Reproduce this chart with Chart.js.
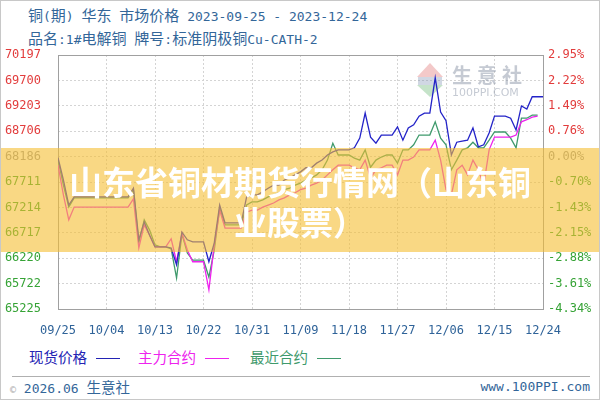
<!DOCTYPE html>
<html lang="zh">
<head>
    <meta charset="UTF-8">
    <meta name="viewport" content="width=device-width, initial-scale=1.0">
    <title>铜(期) 华东 市场价格</title>
    <script src="https://cdn.jsdelivr.net/npm/chart.js"></script>
    <style>
        body {
            margin: 0;
            background: #fff;
        }
        .frame {
            position: relative;
            width: 600px;
            height: 400px;
            overflow: hidden;
            background: #fff;
            font-family: "DejaVu Sans Mono", "Noto Sans CJK SC", monospace;
            color: #336699;
        }
        .cn {
            font-family: "Noto Sans CJK SC", sans-serif;
            font-size: 14.5px;
        }
        .title {
            position: absolute;
            left: 28px;
            font-size: 13px;
            line-height: 20px;
            white-space: nowrap;
        }
        .title .cn {
            font-size: 15px;
        }
        .chart-box {
            position: absolute;
            left: 0;
            top: 0;
            width: 600px;
            height: 345px;
        }
        .legend-item {
            position: absolute;
            top: 347px;
            line-height: 20px;
            white-space: nowrap;
        }
        .legend-item .dash {
            display: inline-block;
            width: 24px;
            height: 0;
            border-top: 1.5px solid;
            vertical-align: middle;
            margin-left: 9px;
        }
        .rule {
            position: absolute;
            left: 12px;
            right: 10px;
            top: 376px;
            border-top: 1px solid #b0b0b0;
        }
        .footer {
            position: absolute;
            top: 377px;
            line-height: 20px;
            font-size: 13px;
            white-space: nowrap;
        }
        .banner {
            position: absolute;
            left: 0;
            top: 148px;
            width: 600px;
            height: 104px;
            box-sizing: border-box;
            padding-top: 13px;
            background: rgba(245, 190, 50, 0.6);
            color: #fff;
            font-family: "Noto Sans CJK SC", sans-serif;
            font-weight: 700;
            font-size: 33px;
            line-height: 40px;
            text-align: center;
        }
        .edge {
            position: absolute;
            left: 0;
            top: 0;
            right: 0;
            bottom: 0;
            border: 1px solid #c8c8c8;
            pointer-events: none;
        }
    </style>
</head>
<body>
    <div class="frame">
        <div class="title" style="top:5px"><span class="cn">铜</span>(<span class="cn">期</span>) <span class="cn">华东</span> <span class="cn">市场价格</span> 2023-09-25 - 2023-12-24</div>
        <div class="title" style="top:28px"><span class="cn">品名</span>:1#<span class="cn">电解铜</span> <span class="cn">牌号</span>:<span class="cn">标准阴极铜</span>Cu-CATH-2</div>
        <div class="chart-box"><canvas id="priceChart"></canvas></div>
        <div class="legend-item" style="left:29px;color:#2323b4"><span class="cn">现货价格</span><span class="dash"></span></div>
        <div class="legend-item" style="left:138px;color:#ee22ee"><span class="cn">主力合约</span><span class="dash"></span></div>
        <div class="legend-item" style="left:250px;color:#3f9a6c"><span class="cn">最近合约</span><span class="dash"></span></div>
        <div class="rule"></div>
        <div class="footer" style="left:10px"><span style="color:#aaa;font-size:10px">©</span> 2026.06 <span class="cn">生意社</span></div>
        <div class="footer" style="right:10px">www.100PPI.com</div>
        <div class="banner">山东省铜材期货行情网（山东铜<br>业股票）</div>
        <div class="edge"></div>
    </div>
    <script>
        // one value per calendar day, 2023-09-25 .. 2023-12-24
        const xTickLabels = ['09/25', '10/04', '10/13', '10/22', '10/31', '11/09', '11/18', '11/27', '12/06', '12/15', '12/24'];
        const leftTickLabels = ['70197', '69700', '69203', '68706', '68186', '67711', '67214', '66717', '66220', '65722', '65225'];
        const rightTickLabels = ['2.95%', '2.22%', '1.49%', '0.76%', '0.00%', '-0.70%', '-1.43%', '-2.15%', '-2.88%', '-3.61%', '-4.34%'];

        const spotPrice = [
            68186, 67750, 67260, 67420, 67420, 67420, 67420, 67420, 67420, 67420,
            67420, 67420, 67420, 67420, 67590, 66580, 66930, 66670, 66440, 66440,
            66440, 66420, 66090, 66730, 66580, 66540, 66540, 66540, 66150, 66520,
            67260, 66910, 66910, 66910, 66910, 67420, 67460, 67460, 67520, 67590,
            67650, 67650, 67750, 67790, 67850, 67910, 67990, 67990, 68080, 68140,
            68240, 68300, 68340, 68340, 68340, 68380, 68570, 69060, 68590, 68470,
            68630, 68630, 68630, 68790, 68530, 68770, 68830, 69000, 69060, 69060,
            69750, 69080, 68910, 68240, 68490, 68510, 68530, 68770, 68400, 68440,
            68670, 69000, 69000, 69000, 68960, 68730, 69200, 69140, 69380, 69380,
            69380
        ];
        const mainContract = [
            68040, 67460, 66970, 67220, 67220, 67220, 67220, 67220, 67220, 67220,
            67220, 67220, 67220, 67220, 67380, 66420, 66870, 66670, 66440, 66440,
            66440, 66600, 66150, 66710, 66380, 66150, 66150, 66150, 65600, 66480,
            67160, 66810, 66810, 66810, 66810, 67120, 67160, 67160, 67220, 67260,
            67300, 67360, 67400, 67460, 67500, 67560, 67590, 67650, 67690, 67750,
            67850, 67950, 68040, 68040, 68040, 67990, 67950, 68140, 67790, 67950,
            67990, 68040, 68040, 67850, 68140, 68140, 68200, 68340, 68340, 68340,
            68530, 68140, 67560, 67460, 67950, 68040, 67850, 68140, 67950, 67650,
            68340, 68590, 68590, 68590, 68590, 68630, 68890, 68930, 68980, 69000,
            null
        ];
        const nearContract = [
            68140, 67650, 67220, 67400, 67400, 67400, 67400, 67400, 67400, 67400,
            67400, 67400, 67400, 67400, 67560, 66520, 66970, 66770, 66480, 66440,
            66440, 66400, 65830, 66690, 66320, 66180, 66180, 66180, 65850, 66380,
            67200, 66870, 66870, 66870, 66870, 67260, 67320, 67320, 67360, 67420,
            67460, 67500, 67560, 67590, 67650, 67690, 67750, 67790, 67850, 67950,
            68140, 68470, 68240, 68240, 68240, 68180, 68140, 68340, 68000, 68140,
            68200, 68240, 68240, 68080, 68340, 68340, 68440, 68630, 68630, 68630,
            68890, 68570, 68440, 67950, 68140, 68340, 68380, 68490, 68380, 68380,
            68530, 68690, 68690, 68690, 68570, 68380, 68960, 68960, 69020, 69020,
            null
        ];

        const days = spotPrice.map((_, i) => i);
        const yMax = parseFloat(leftTickLabels[0]);
        const yMin = parseFloat(leftTickLabels[leftTickLabels.length - 1]);

        function evenTicks(scale) {
            const n = leftTickLabels.length - 1;
            scale.ticks = [];
            for (let k = 0; k <= n; k++) {
                scale.ticks.push({ value: yMin + k * (yMax - yMin) / n });
            }
        }

        // ticks run bottom-up; labels above the base price are red, below green
        function tickColor(ctx) {
            const fromTop = leftTickLabels.length - 1 - ctx.index;
            if (fromTop < 4) return '#e23c3c';
            if (fromTop === 4) return '#999999';
            return '#36a336';
        }

        const plotFrame = {
            id: 'plotFrame',
            beforeDatasetsDraw(chart) {
                const { ctx, chartArea: a } = chart;
                ctx.save();
                ctx.strokeStyle = '#a0a0a0';
                ctx.lineWidth = 1;
                ctx.strokeRect(a.left + 0.5, a.top + 0.5, a.right - a.left, a.bottom - a.top);

                // faded site logo
                const x = a.right - 126, y = a.top + 8;
                ctx.fillStyle = 'rgba(225, 120, 120, 0.4)';
                ctx.beginPath();
                ctx.moveTo(x + 13, y); ctx.lineTo(x + 26, y + 14); ctx.lineTo(x, y + 14);
                ctx.fill();
                ctx.fillStyle = 'rgba(120, 140, 175, 0.35)';
                ctx.fillRect(x + 1, y + 14, 24, 8);
                ctx.fillStyle = 'rgba(110, 185, 120, 0.4)';
                ctx.beginPath();
                ctx.moveTo(x, y + 22); ctx.lineTo(x + 26, y + 22); ctx.lineTo(x + 13, y + 34);
                ctx.fill();

                ctx.fillStyle = 'rgba(140, 150, 168, 0.5)';
                ctx.textBaseline = 'middle';
                ctx.font = 'bold 20px "Noto Sans CJK SC"';
                ['生', '意', '社'].forEach((ch, i) => ctx.fillText(ch, x + 35 + i * 25, y + 12));
                ctx.font = '11px "DejaVu Sans"';
                ctx.fillText('100PPI.COM', x + 35, y + 30);
                ctx.restore();
            }
        };

        const gridStyle = { color: '#d4d4d4', drawTicks: false };
        const tickFont = { family: 'DejaVu Sans Mono', size: 12 };

        new Chart(document.getElementById('priceChart'), {
            type: 'line',
            data: {
                labels: days,
                datasets: [
                    { label: '现货价格', data: spotPrice, borderColor: '#2323c8' },
                    { label: '主力合约', data: mainContract, borderColor: '#ee22ee' },
                    { label: '最近合约', data: nearContract, borderColor: '#3f9a6c' }
                ]
            },
            options: {
                responsive: true,
                maintainAspectRatio: false,
                animation: false,
                layout: { padding: { top: 55 } },
                elements: {
                    line: { borderWidth: 1.3, tension: 0 },
                    point: { radius: 0 }
                },
                plugins: {
                    legend: { display: false },
                    tooltip: { enabled: false }
                },
                scales: {
                    x: {
                        type: 'linear',
                        min: 0,
                        max: days.length - 1,
                        afterFit: s => { s.height = 36; },
                        grid: gridStyle,
                        border: { display: false, dash: [2, 2] },
                        ticks: {
                            stepSize: 9,
                            maxRotation: 0,
                            padding: 15,
                            color: '#2f6399',
                            font: tickFont,
                            callback: v => xTickLabels[v / 9]
                        }
                    },
                    y: {
                        position: 'left',
                        min: yMin,
                        max: yMax,
                        afterBuildTicks: evenTicks,
                        afterFit: s => { s.width = 58; },
                        grid: gridStyle,
                        border: { display: false, dash: [2, 2] },
                        ticks: {
                            padding: 17,
                            color: tickColor,
                            font: tickFont,
                            callback: (v, i) => leftTickLabels[leftTickLabels.length - 1 - i]
                        }
                    },
                    y2: {
                        position: 'right',
                        min: yMin,
                        max: yMax,
                        afterBuildTicks: evenTicks,
                        afterFit: s => { s.width = 57; },
                        grid: { display: false, drawTicks: false },
                        border: { display: false },
                        ticks: {
                            padding: 5,
                            color: tickColor,
                            font: tickFont,
                            callback: (v, i) => rightTickLabels[rightTickLabels.length - 1 - i]
                        }
                    }
                }
            },
            plugins: [plotFrame]
        });
    </script>
</body>
</html>
